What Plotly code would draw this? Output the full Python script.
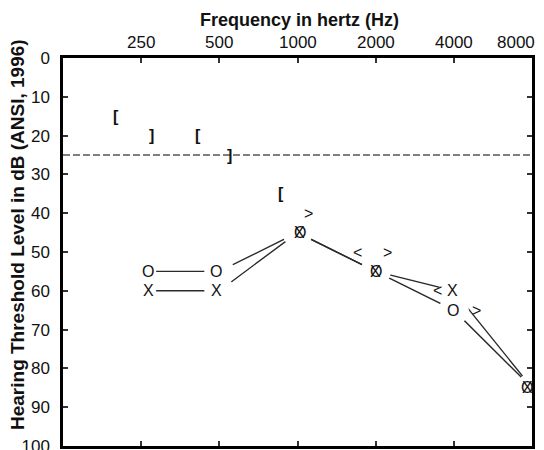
import math
import plotly.graph_objects as go

# ---------------- data ----------------
freqs = [250, 500, 1000, 2000, 4000, 8000]
freq_labels = ["250", "500", "1000", "2000", "4000", "8000"]
right_air = [55, 55, 45, 55, 65, 85]   # O
left_air = [60, 60, 45, 55, 60, 85]    # X

right_masked_bone_f = [250, 500, 1000]   # [
right_masked_bone_db = [15, 20, 35]
left_masked_bone_f = [250, 500]          # ]
left_masked_bone_db = [20, 25]
right_bone_f = [2000, 4000]              # <
right_bone_db = [50, 60]
left_bone_f = [1000, 2000, 4000]         # >
left_bone_db = [40, 50, 65]

normal_limit = 25
y_ticks = [0, 10, 20, 30, 40, 50, 60, 70, 80, 90, 100]

# ---------------- styles ----------------
FONT = "Liberation Sans, Arial, Helvetica, sans-serif"
air_shift = [7, -3, 2, 0, -1, -5]
rmb_shift = [-25, -21, -17]
lmb_shift = [10, 10]
rb_shift = [-18, -16]
lb_shift = [11, 12, 23]

fig = go.Figure()

# normal-hearing limit
fig.add_shape(type="line", xref="paper", x0=0, x1=1, yref="y",
              y0=normal_limit, y1=normal_limit, layer="below",
              line=dict(color="#555555", width=1.5, dash="7px,3px"))

# connecting lines
for vals in (right_air, left_air):
    fig.add_trace(go.Scatter(x=freqs, y=vals, mode="lines",
                             line=dict(color="#2a2a2a", width=1.4),
                             hoverinfo="skip", showlegend=False))
# white masks to leave gaps around the symbols
fig.add_trace(go.Scatter(x=freqs + freqs, y=right_air + left_air, mode="markers",
                         marker=dict(color="white", size=30, line=dict(width=0)),
                         hoverinfo="skip", showlegend=False))


def put(text, fs, dbs, shifts, size=16):
    for f, d, s in zip(fs, dbs, shifts):
        fig.add_annotation(x=math.log10(f), y=d, xref="x", yref="y", text=text,
                           showarrow=False, xanchor="center", yanchor="middle",
                           xshift=s, font=dict(family=FONT, size=size, color="#111"))


put("O", freqs, right_air, air_shift)
put("X", freqs, left_air, air_shift)
put("<b>[</b>", right_masked_bone_f, right_masked_bone_db, rmb_shift)
put("<b>]</b>", left_masked_bone_f, left_masked_bone_db, lmb_shift)
put("&lt;", right_bone_f, right_bone_db, rb_shift)
put("&gt;", left_bone_f, left_bone_db, lb_shift)

# top frequency labels
for i, (f, lab) in enumerate(zip(freqs, freq_labels)):
    last = i == len(freqs) - 1
    fig.add_annotation(x=math.log10(f), y=1, xref="x", yref="paper", text=lab,
                       showarrow=False, xanchor="right" if last else "center",
                       yanchor="bottom", yshift=4, xshift=5 if last else 0,
                       font=dict(family=FONT, size=17, color="#111"))

fig.add_annotation(x=0.505, y=1, xref="paper", yref="paper",
                   text="<b>Frequency in hertz (Hz)</b>", showarrow=False,
                   xanchor="center", yanchor="bottom", yshift=26,
                   font=dict(family=FONT, size=18, color="#111"))
fig.add_annotation(x=0, y=0.5, xref="paper", yref="paper",
                   text="<b>Hearing Threshold Level in dB (ANSI, 1996)</b>",
                   showarrow=False, textangle=-90, xanchor="center",
                   yanchor="middle", xshift=-46, yshift=17,
                   font=dict(family=FONT, size=19, color="#111"))

fig.update_xaxes(type="log", range=[math.log10(125), math.log10(8000)],
                 side="top", tickvals=freqs[:-1], showticklabels=False,
                 ticks="inside", ticklen=5, tickwidth=1.5, tickcolor="#333",
                 showline=True, linecolor="black", linewidth=2.5, mirror="ticks",
                 showgrid=False, zeroline=False, automargin=False)
fig.update_yaxes(range=[100, 0], tickvals=y_ticks,
                 ticks="inside", ticklen=5, tickwidth=1.5, tickcolor="#333",
                 showline=True, linecolor="black", linewidth=2.5, mirror="ticks",
                 showgrid=False, zeroline=False, ticklabelstandoff=7,
                 ticklabeloverflow="allow", automargin=False,
                 tickfont=dict(family=FONT, size=17, color="#111"))

fig.update_layout(width=544, height=450,
                  margin=dict(l=63, r=12, t=58, b=4, autoexpand=False),
                  paper_bgcolor="white", plot_bgcolor="white",
                  showlegend=False)

fig.write_html("out.html", config={"displayModeBar": False},
               post_script="document.body.style.margin='0';"
                           "document.body.style.overflow='hidden';")
